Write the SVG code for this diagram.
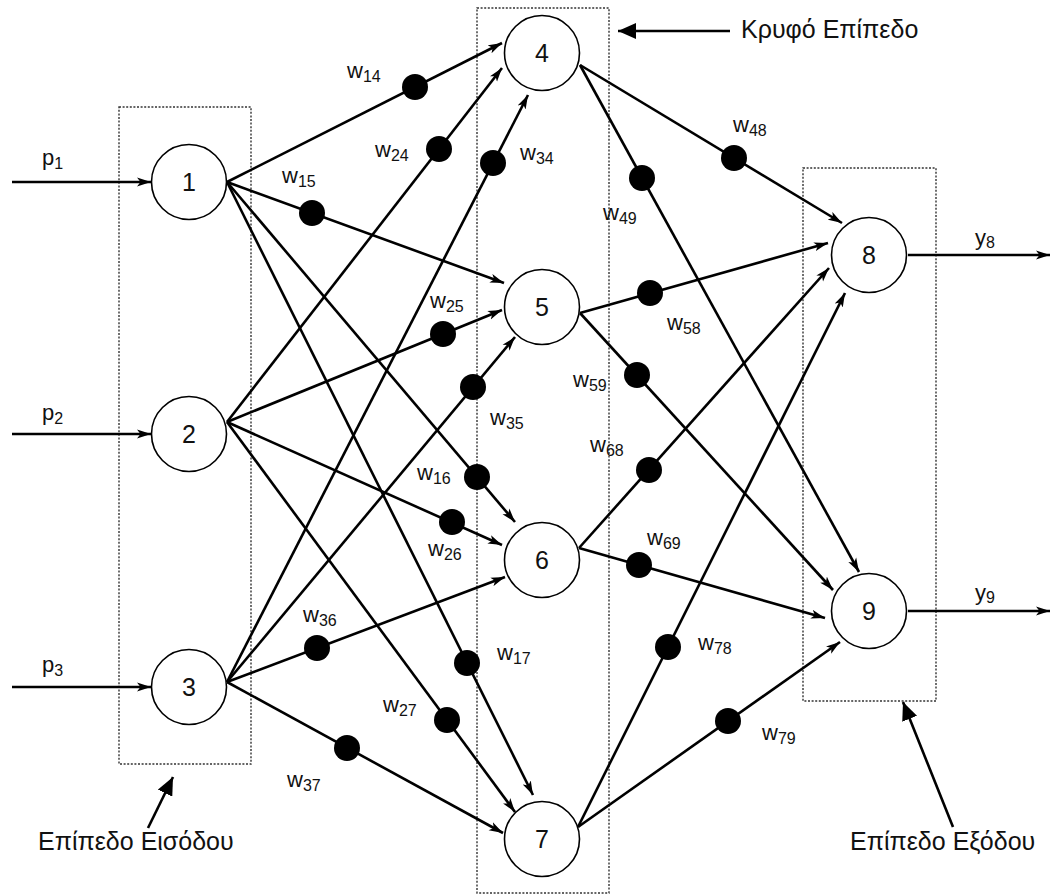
<svg xmlns="http://www.w3.org/2000/svg" width="1054" height="895" viewBox="0 0 1054 895">
<style>
.bg{fill:#ffffff}
.layer{fill:none;stroke:#333;stroke-width:1.4;stroke-dasharray:2 1.6}
.edge{stroke:#000;stroke-width:2.6;fill:none;marker-end:url(#arr)}
.io{stroke:#000;stroke-width:2.6;fill:none;marker-end:url(#arr)}
.ann{stroke:#000;stroke-width:2.6;fill:none;marker-end:url(#big)}
.dot{fill:#000}
.node circle{fill:#fff;stroke:#000;stroke-width:1.6}
.num{font-family:"Liberation Sans",Arial,sans-serif;font-size:25px;text-anchor:middle;fill:#111}
.lbl{font-family:"Liberation Sans",Arial,sans-serif;font-size:22px;fill:#111}
.sub{font-size:16px}
.title{font-family:"Liberation Sans",Arial,sans-serif;font-size:25px;fill:#111}
</style>
<defs>
<marker id="arr" markerUnits="userSpaceOnUse" markerWidth="14" markerHeight="10" viewBox="0 0 14 10" refX="14" refY="5" orient="auto">
<path d="M0,0.5 L14,5 L0,9.5 L3.5,5 Z" fill="#000"/>
</marker>
<marker id="big" markerUnits="userSpaceOnUse" markerWidth="18" markerHeight="16" viewBox="0 0 18 16" refX="18" refY="8" orient="auto">
<path d="M0,0 L18,8 L0,16 Z" fill="#000"/>
</marker>
</defs>
<rect class="bg" x="0" y="0" width="1054" height="895"/>

<g id="layers">
<rect class="layer" x="119" y="107" width="132" height="657"/>
<rect class="layer" x="477" y="8" width="132" height="885"/>
<rect class="layer" x="803" y="168" width="133" height="533"/>
</g>

<g id="connectors">
<line class="io" x1="12" y1="182" x2="151" y2="182"/>
<line class="io" x1="12" y1="434" x2="151" y2="434"/>
<line class="io" x1="12" y1="687" x2="151" y2="687"/>
<line class="io" x1="908" y1="255" x2="1050" y2="255"/>
<line class="io" x1="908" y1="611" x2="1050" y2="611"/>

<line class="edge" x1="227" y1="182" x2="502" y2="43"/>
<line class="edge" x1="227" y1="422" x2="502" y2="68"/>
<line class="edge" x1="227" y1="682" x2="528" y2="95"/>
<line class="edge" x1="227" y1="182" x2="504" y2="283"/>
<line class="edge" x1="227" y1="422" x2="502" y2="310"/>
<line class="edge" x1="227" y1="682" x2="515" y2="337"/>
<line class="edge" x1="227" y1="182" x2="515" y2="522"/>
<line class="edge" x1="227" y1="422" x2="502" y2="545"/>
<line class="edge" x1="227" y1="682" x2="505" y2="577"/>
<line class="edge" x1="227" y1="182" x2="533" y2="795"/>
<line class="edge" x1="227" y1="422" x2="515" y2="812"/>
<line class="edge" x1="227" y1="682" x2="503" y2="833"/>
<line class="edge" x1="580" y1="65" x2="842" y2="223"/>
<line class="edge" x1="580" y1="65" x2="859" y2="572"/>
<line class="edge" x1="580" y1="313" x2="828" y2="243"/>
<line class="edge" x1="580" y1="313" x2="833" y2="590"/>
<line class="edge" x1="579" y1="548" x2="829" y2="268"/>
<line class="edge" x1="579" y1="548" x2="825" y2="618"/>
<line class="edge" x1="578" y1="827" x2="845" y2="293"/>
<line class="edge" x1="578" y1="827" x2="840" y2="642"/>

<circle class="dot" cx="415" cy="87" r="13"/>
<circle class="dot" cx="439" cy="149" r="13"/>
<circle class="dot" cx="493" cy="163" r="13"/>
<circle class="dot" cx="312" cy="213" r="13"/>
<circle class="dot" cx="443" cy="334" r="13"/>
<circle class="dot" cx="473" cy="387" r="13"/>
<circle class="dot" cx="477" cy="477" r="13"/>
<circle class="dot" cx="452" cy="522" r="13"/>
<circle class="dot" cx="317" cy="648" r="13"/>
<circle class="dot" cx="467" cy="663" r="13"/>
<circle class="dot" cx="447" cy="720" r="13"/>
<circle class="dot" cx="347" cy="748" r="13"/>
<circle class="dot" cx="734" cy="158" r="13"/>
<circle class="dot" cx="642" cy="178" r="13"/>
<circle class="dot" cx="650" cy="293" r="13"/>
<circle class="dot" cx="637" cy="375" r="13"/>
<circle class="dot" cx="649" cy="470" r="13"/>
<circle class="dot" cx="639" cy="565" r="13"/>
<circle class="dot" cx="668" cy="647" r="13"/>
<circle class="dot" cx="728" cy="721" r="13"/>

<line class="ann" x1="730" y1="31" x2="618" y2="31"/>
<line class="ann" x1="148" y1="828" x2="173" y2="777"/>
<line class="ann" x1="953" y1="827" x2="903" y2="702"/>
</g>

<g id="n1" class="node"><circle cx="189" cy="182" r="37.5"/><text class="num" x="189" y="191">1</text></g>
<g id="n2" class="node"><circle cx="189" cy="434" r="37.5"/><text class="num" x="189" y="443">2</text></g>
<g id="n3" class="node"><circle cx="189" cy="687" r="37.5"/><text class="num" x="189" y="696">3</text></g>
<g id="n4" class="node"><circle cx="542" cy="53" r="37.5"/><text class="num" x="542" y="62">4</text></g>
<g id="n5" class="node"><circle cx="542" cy="307" r="37.5"/><text class="num" x="542" y="316">5</text></g>
<g id="n6" class="node"><circle cx="542" cy="560" r="37.5"/><text class="num" x="542" y="569">6</text></g>
<g id="n7" class="node"><circle cx="542" cy="839" r="37.5"/><text class="num" x="542" y="848">7</text></g>
<g id="n8" class="node"><circle cx="869" cy="255" r="37.5"/><text class="num" x="869" y="264">8</text></g>
<g id="n9" class="node"><circle cx="869" cy="611" r="37.5"/><text class="num" x="869" y="620">9</text></g>

<g id="labels">
<text class="lbl" x="42" y="165">p<tspan class="sub" dy="4">1</tspan></text>
<text class="lbl" x="42" y="420">p<tspan class="sub" dy="4">2</tspan></text>
<text class="lbl" x="42" y="672">p<tspan class="sub" dy="4">3</tspan></text>
<text class="lbl" x="975" y="245">y<tspan class="sub" dy="3">8</tspan></text>
<text class="lbl" x="975" y="600">y<tspan class="sub" dy="3">9</tspan></text>

<text class="lbl" x="347" y="78">w<tspan class="sub" dy="4">14</tspan></text>
<text class="lbl" x="375" y="157">w<tspan class="sub" dy="4">24</tspan></text>
<text class="lbl" x="520" y="160">w<tspan class="sub" dy="4">34</tspan></text>
<text class="lbl" x="282" y="183">w<tspan class="sub" dy="4">15</tspan></text>
<text class="lbl" x="430" y="308">w<tspan class="sub" dy="4">25</tspan></text>
<text class="lbl" x="490" y="425">w<tspan class="sub" dy="4">35</tspan></text>
<text class="lbl" x="417" y="480">w<tspan class="sub" dy="4">16</tspan></text>
<text class="lbl" x="428" y="556">w<tspan class="sub" dy="4">26</tspan></text>
<text class="lbl" x="303" y="622">w<tspan class="sub" dy="4">36</tspan></text>
<text class="lbl" x="497" y="660">w<tspan class="sub" dy="4">17</tspan></text>
<text class="lbl" x="383" y="712">w<tspan class="sub" dy="4">27</tspan></text>
<text class="lbl" x="287" y="787">w<tspan class="sub" dy="4">37</tspan></text>
<text class="lbl" x="733" y="132">w<tspan class="sub" dy="4">48</tspan></text>
<text class="lbl" x="603" y="220">w<tspan class="sub" dy="4">49</tspan></text>
<text class="lbl" x="667" y="330">w<tspan class="sub" dy="4">58</tspan></text>
<text class="lbl" x="573" y="387">w<tspan class="sub" dy="4">59</tspan></text>
<text class="lbl" x="590" y="452">w<tspan class="sub" dy="4">68</tspan></text>
<text class="lbl" x="647" y="545">w<tspan class="sub" dy="4">69</tspan></text>
<text class="lbl" x="698" y="650">w<tspan class="sub" dy="4">78</tspan></text>
<text class="lbl" x="762" y="740">w<tspan class="sub" dy="4">79</tspan></text>

<text class="title" x="741" y="38">Κρυφό Επίπεδο</text>
<text class="title" x="38" y="850">Επίπεδο Εισόδου</text>
<text class="title" x="850" y="850">Επίπεδο Εξόδου</text>
</g>
</svg>
